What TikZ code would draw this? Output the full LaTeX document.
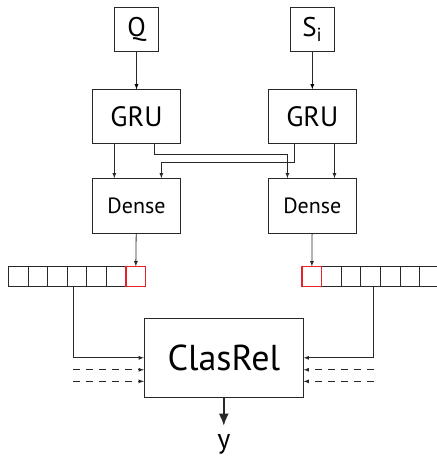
\documentclass[tikz,border=0pt]{standalone}
\usepackage{fontspec}
\setmainfont{PT Sans}
\usetikzlibrary{positioning, arrows.meta}
\definecolor{cell_red}		{RGB}{232,32,40}
\definecolor{line_gray}		{RGB}{40,40,40}

\begin{document}
\begin{tikzpicture}[x = 1pt, y = -1pt,
		inBox/.style    = {draw = line_gray,
			rectangle,
			text centered,
			line width     = 0.8pt,
			inner sep      = 0pt,
			minimum width  = 44pt,
			minimum height = 44pt,
			font = \fontsize{27}{30}\selectfont},
		gruBox/.style   = {inBox,
			minimum width  = 88pt,
			minimum height = 54pt,
			font = \fontsize{28}{30}\selectfont},
		denseBox/.style = {inBox,
			minimum width  = 88pt,
			minimum height = 55pt,
			font = \fontsize{22}{24}\selectfont},
		clasBox/.style  = {inBox,
			minimum width  = 159pt,
			minimum height = 79pt,
			font = \fontsize{36}{40}\selectfont},
		cell/.style     = {draw = line_gray,
			rectangle,
			line width     = 0.8pt,
			inner sep      = 0pt,
			minimum width  = 19.6pt,
			minimum height = 20pt},
		cellR/.style    = {cell, draw = cell_red, line width = 1.3pt},
		conn/.style     = {draw = line_gray, line width = 0.8pt, -latex}]
		
		\useasboundingbox (0,0) rectangle (437,456);
		
		\node[inBox] (Query) at (136.5,29) {Q};
		\node[inBox] (Supp) [right=131pt of Query] {S\textsubscript{i}};
		
		\node[gruBox] (GruQ) [below=38pt of Query] {GRU};
		\node[gruBox] (GruS) [below=38pt of Supp] {GRU};
		
		\node[denseBox] (DenseQ) [below=34pt of GruQ] {Dense};
		\node[denseBox] (DenseS) [below=34pt of GruS] {Dense};
		
		% the two vectors
		\foreach \i in {1,...,6}
			\node[cell] (CellQ\i) at (8.3+19.6*\i-9.8,276.7) {};
		\node[cell] (CellQ7) at (8.3+19.6*7-9.8,276.7) {};
		\foreach \i in {2,...,7}
			\node[cell] (CellS\i) at (302+19.6*\i-9.8,276.7) {};
		\node[cell] (CellS1) at (302+9.8,276.7) {};
		\node[cellR] at (CellQ7) {};
		\node[cellR] at (CellS1) {};
		
		\node[clasBox] (Clas) at (223.8,357.8) {ClasRel};
		\node[inner sep=0pt, font=\fontsize{28}{30}\selectfont] (Out) [below=37pt of Clas] {y};
		
		\path (GruQ.south west)   -- (GruQ.south east)   coordinate[pos=0.25] (gq0) coordinate[pos=0.70] (gq1);
		\path (GruS.south west)   -- (GruS.south east)   coordinate[pos=0.30] (gs0) coordinate[pos=0.75] (gs1);
		\path (DenseQ.north west) -- (DenseQ.north east) coordinate[pos=0.25] (dq0) coordinate[pos=0.78] (dq1);
		\path (DenseS.north west) -- (DenseS.north east) coordinate[pos=0.22] (ds0) coordinate[pos=0.75] (ds1);
		
		\path[conn] (Query) edge (GruQ);
		\path[conn] (Supp)  edge (GruS);
		
		\draw[conn] (gq0) -- (dq0);
		\draw[conn] (gs1) -- (ds1);
		\draw[conn] (gq1) -- ++(0,9.7) -| (ds0);
		\draw[conn] (gs0) -- ++(0,18) -| (dq1);
		
		\draw[conn] (DenseQ) -- (CellQ7);
		\draw[conn] (DenseS) -- (CellS1);
		
		\path (CellQ4.south west) -- (CellQ4.south east) coordinate[pos=0.33] (TapQ);
		\path (CellS4.south west) -- (CellS4.south east) coordinate[pos=0.65] (TapS);
		\path (Clas.west) -- (Clas.south west) coordinate[pos=0.3] (InQ1) coordinate[pos=0.59] (InQ2);
		\path (Clas.east) -- (Clas.south east) coordinate[pos=0.3] (InS1) coordinate[pos=0.59] (InS2);
		
		\draw[conn] (TapQ) |- (Clas.west);
		\draw[conn] (TapS) |- (Clas.east);
		\draw[conn, dashed, dash pattern=on 7pt off 6pt] (TapQ |- InQ1) -- (InQ1);
		\draw[conn, dashed, dash pattern=on 7pt off 6pt] (TapQ |- InQ2) -- (InQ2);
		\draw[conn, dashed, dash pattern=on 7pt off 6pt] (TapS |- InS1) -- (InS1);
		\draw[conn, dashed, dash pattern=on 7pt off 6pt] (TapS |- InS2) -- (InS2);
		
		\draw[line_gray, line width=1.8pt, -{Latex[length=12pt,width=10pt]}, shorten >=9pt] (Clas) -- (Out);
		
	\end{tikzpicture}
\end{document}
